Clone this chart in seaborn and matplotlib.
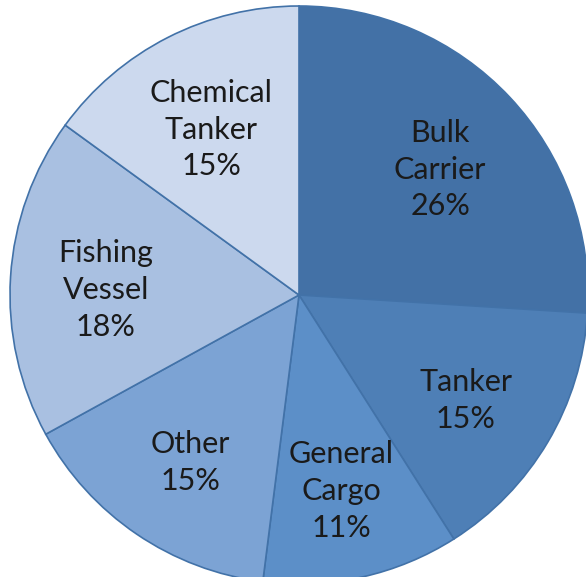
import matplotlib
matplotlib.use("Agg")
import matplotlib.pyplot as plt
import seaborn as sns

# data
categories = ["Bulk\nCarrier", "Tanker", "General\nCargo", "Other", "Fishing\nVessel", "Chemical\nTanker"]
shares = [26, 15, 11, 15, 18, 15]
colors = ["#4371a6", "#4e7fb6", "#5c8fc8", "#7ca3d4", "#a9c0e1", "#ccd9ee"]

sns.set_theme(style="white")
plt.rcParams['font.family'] = ['Lato', 'DejaVu Sans']

fig = plt.figure(figsize=(5.86, 5.77), dpi=100)
# pie centre ~ (299, 295) px, radius ~289 px
ax = fig.add_axes([10 / 586, -7 / 577, 578 / 586, 578 / 577])

labels = [f"{c}\n{s}%" for c, s in zip(categories, shares)]
wedges, texts = ax.pie(
    shares, labels=labels, colors=colors, startangle=90, counterclock=False,
    labeldistance=0.67,
    wedgeprops=dict(edgecolor="#4272a8", linewidth=1.2),
)
for t in texts:
    x, y = t.get_position()
    t.set_position((x, y - 0.025))
    t.set_ha("center")
    t.set_va("center")
    t.set_multialignment("center")
    t.set_fontsize(22)
    t.set_color("#1a1a1a")
    t.set_linespacing(1.38)

ax.set_xlim(-1, 1)
ax.set_ylim(-1, 1)
ax.set_aspect("equal")
ax.axis("off")

fig.savefig("out.png", dpi=100, facecolor="white")
